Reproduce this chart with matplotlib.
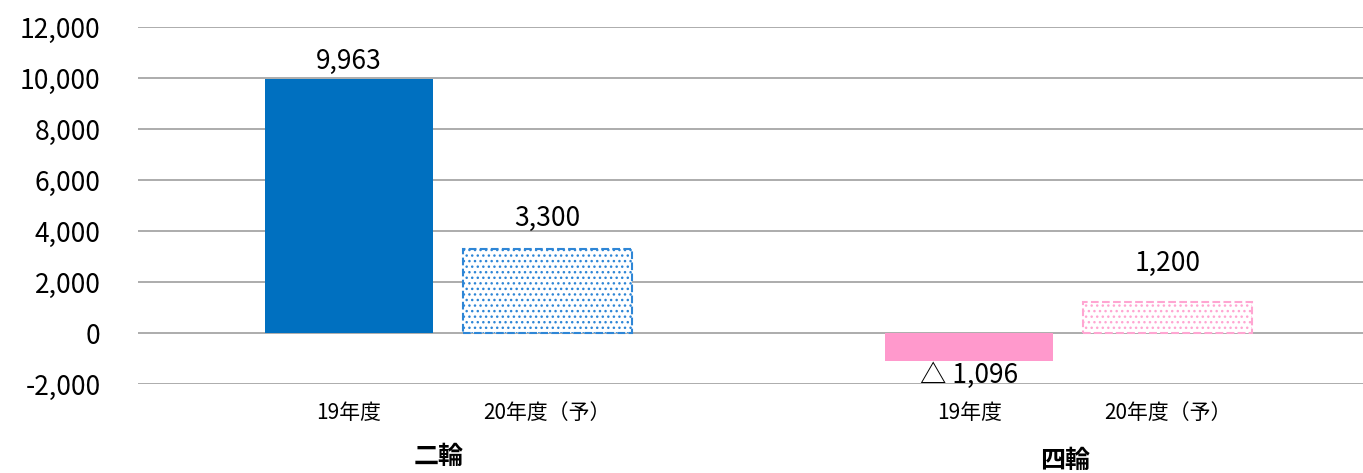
import matplotlib
matplotlib.use("Agg")
import matplotlib.pyplot as plt

plt.rcParams['font.family'] = ['Noto Sans CJK JP', 'DejaVu Sans']

groups = ['二輪', '四輪']
periods = ['19年度', '20年度（予）']
values_19 = [9963, -1096]
values_20 = [3300, 1200]
yticks = [-2000, 0, 2000, 4000, 6000, 8000, 10000, 12000]

solid_colors = ['#0070C0', '#FF99CC']
hatch_colors = ['#2E86D6', '#FFA6D2']

fig = plt.figure(figsize=(13.63, 4.73), dpi=100)
ax = fig.add_axes([138/1363, (473-384)/473, 1 - 138/1363, (384-27)/473])

offset = 0.16
width = 0.272
label_pads = [(4, -1), (10, 14)]  # (solid, hatched) pad above bars in points
for i in range(len(groups)):
    ax.bar(i - offset, values_19[i], width=width, color=solid_colors[i], zorder=3)
    ax.bar(i + offset, values_20[i], width=width, facecolor='white',
           edgecolor=hatch_colors[i], hatch='...', linestyle='--', linewidth=1.5, zorder=3)
    for x, v, pad in [(i - offset, values_19[i], 3), (i + offset, values_20[i], 12 + 6 * i)]:
        if v >= 0:
            ax.annotate(f"{v:,}", (x, v), xytext=(0, pad), textcoords='offset points',
                        ha='center', va='bottom', fontsize=19)
        else:
            ax.annotate(f"△ {abs(v):,}", (x, v), xytext=(0, -1), textcoords='offset points',
                        ha='center', va='top', fontsize=19)
    ax.text(i - offset, -0.08, periods[0], transform=ax.get_xaxis_transform(),
            ha='center', va='center', fontsize=15)
    ax.text(i + offset, -0.08, periods[1], transform=ax.get_xaxis_transform(),
            ha='center', va='center', fontsize=15)
    ax.text(i - 0.015 * (1 - i) - 0.005 * i, -0.203 - 0.013 * i, groups[i],
            transform=ax.get_xaxis_transform(), ha='center', va='center',
            fontsize=18, fontweight='bold')

ax.set_xlim(-0.5, 1.475)
ax.set_ylim(-2000, 12000)
ax.set_yticks(yticks)
ax.set_yticklabels([f"{t:,}" for t in yticks], fontsize=19)
ax.tick_params(axis='y', length=0, pad=27)
ax.set_xticks([])
ax.grid(axis='y', color='#A6A6A6', linewidth=1.3, zorder=0)
for s in ax.spines.values():
    s.set_visible(False)

fig.savefig('out.png', dpi=100)
